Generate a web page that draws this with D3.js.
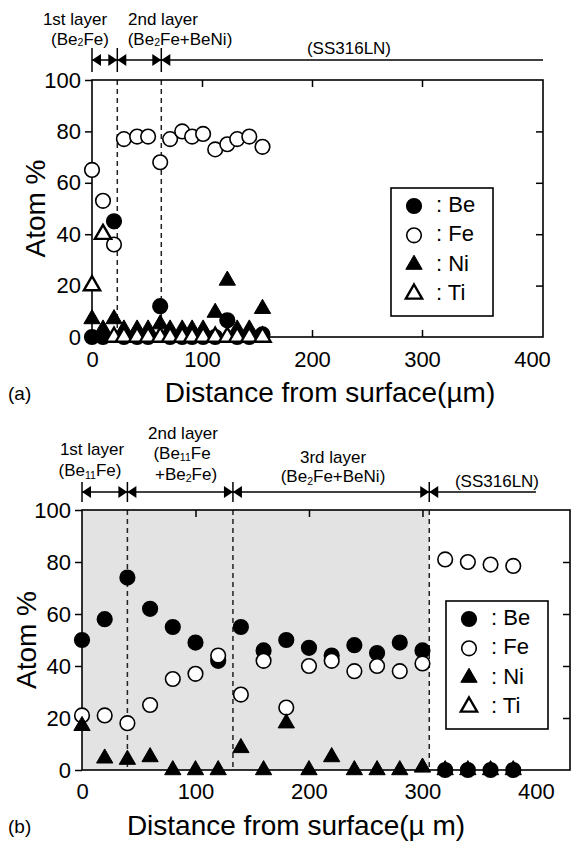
<!DOCTYPE html>
<html>
<head>
<meta charset="utf-8">
<script src="https://cdn.jsdelivr.net/npm/d3@7"></script>
<style>
  body { margin: 0; background: #fff; }
  text { font-family: "Liberation Sans", Arial, sans-serif; fill: #000; }
</style>
</head>
<body>
<svg id="chart" width="573" height="844"></svg>
<script>
// ---- panel (a) data ----
const distA = [0, 10, 20, 29, 41, 51, 62, 71, 82, 91, 101, 112, 123, 132, 143, 155];
const beA = [0, 0, 45, 0, 0, 0, 12, 0, 0, 0, 0, 0, 6.5, 0, 0, 1];
const feA = [65, 53, 36, 77, 78, 78, 68, 77, 80, 78, 79, 73, 75, 77, 78, 74];
const niA = [7, 3, 7, 3, 3, 3, 5, 3, 3, 3, 3, 9.5, 22, 3, 3, 11];
const tiA = [20, 40, 0, 0, 0, 0, 0, 0, 0, 0, 0, 0, 0, 0, 0, 0];
const layersA = [0, 23, 63]; // layer boundaries, µm

// ---- panel (b) data ----
const distB = [0, 20, 40, 60, 80, 100, 120, 140, 160, 180, 200, 220, 240, 260, 280, 300, 320, 340, 360, 380];
const beB = [50, 58, 74, 62, 55, 49, 42, 55, 46, 50, 47, 44, 48, 45, 49, 46, 0, 0, 0, 0];
const feB = [21, 21, 18, 25, 35, 37, 44, 29, 42, 24, 40, 42, 38, 40, 38, 41, 81, 80, 79, 78.5];
const niB = [17, 4.5, 4, 5, 0, 0, 0, 8.5, 0, 18, 0, 5, 0, 0, 0, 1, 0, 0, 0, 0];
const tiB = [];
const layersB = [0, 40, 133, 306];

const yTicks = [0, 20, 40, 60, 80, 100];
const xTickLabels = [0, 100, 200, 300, 400];
const xTickMarks = [100, 200, 300];
const elements = ["Be", "Fe", "Ni", "Ti"];

const svg = d3.select("#chart");

function marker(sel, kind) {
  if (kind === "Be" || kind === "Fe") {
    sel.append("circle")
      .attr("r", 7.3)
      .attr("fill", kind === "Be" ? "#000" : "#fff")
      .attr("stroke", "#000")
      .attr("stroke-width", 1.6);
  } else {
    sel.append("path")
      .attr("d", d3.symbol(d3.symbolTriangle, 115)())
      .attr("fill", kind === "Ni" ? "#000" : "#fff")
      .attr("stroke", "#000")
      .attr("stroke-width", kind === "Ti" ? 2.4 : 1);
  }
}

// text with small (sub) parts: parts = [[text, isSub], ...]
function richText(g, x, y, parts, size, subShift) {
  const t = g.append("text")
    .attr("x", x).attr("y", y)
    .attr("text-anchor", "middle")
    .style("font-size", size + "px");
  let shift = 0;
  parts.forEach(([s, sub]) => {
    const sp = t.append("tspan").text(s);
    if (sub) sp.style("font-size", (size * 0.62) + "px");
    sp.attr("dy", sub ? subShift - shift : -shift);
    shift = sub ? subShift : 0;
  });
  return t;
}

function drawPanel(p) {
  const g = svg.append("g");
  const x = d3.scaleLinear().domain(p.xDomain).range([p.left, p.right]);
  const y = d3.scaleLinear().domain([0, 100]).range([p.bottom, p.top]);

  // shaded coating region
  if (p.shadeTo != null) {
    g.append("rect")
      .attr("x", x(0)).attr("y", p.top)
      .attr("width", x(p.shadeTo) - x(0))
      .attr("height", p.bottom - p.top)
      .attr("fill", "#e3e3e3");
  }

  // dashed layer boundaries
  g.selectAll(".dash")
    .data(p.layers.slice(1))
    .enter().append("line")
    .attr("x1", d => x(d)).attr("x2", d => x(d))
    .attr("y1", p.top).attr("y2", p.bottom)
    .attr("stroke", "#222").attr("stroke-width", 1.5)
    .attr("stroke-dasharray", "5,4");

  // left axis, outward ticks
  const ya = g.append("g")
    .attr("transform", `translate(${p.left},0)`)
    .call(d3.axisLeft(y).tickValues(yTicks).tickSize(7).tickPadding(4));
  ya.select(".domain").remove();
  ya.selectAll("line").attr("stroke-width", 1.5);
  ya.selectAll("text").style("font-size", "22px");

  // right inward ticks
  g.append("g")
    .attr("transform", `translate(${p.right},0)`)
    .call(d3.axisRight(y).tickValues(yTicks.slice(1, -1)).tickSize(-7).tickFormat(""))
    .call(s => s.select(".domain").remove())
    .selectAll("line").attr("stroke-width", 1.5);

  // bottom labels and inward ticks
  const xa = g.append("g")
    .attr("transform", `translate(0,${p.bottom})`)
    .call(d3.axisBottom(x).tickValues(xTickLabels).tickSize(0).tickPadding(p.xPad));
  xa.select(".domain").remove();
  xa.selectAll("text").style("font-size", "22px");

  g.append("g")
    .attr("transform", `translate(0,${p.bottom})`)
    .call(d3.axisBottom(x).tickValues(xTickMarks).tickSize(-7).tickFormat(""))
    .call(s => s.select(".domain").remove())
    .selectAll("line").attr("stroke-width", 1.5);

  g.append("g")
    .attr("transform", `translate(0,${p.top})`)
    .call(d3.axisTop(x).tickValues(xTickMarks).tickSize(-7).tickFormat(""))
    .call(s => s.select(".domain").remove())
    .selectAll("line").attr("stroke-width", 1.5);

  // frame
  g.append("rect")
    .attr("x", p.left).attr("y", p.top)
    .attr("width", p.right - p.left).attr("height", p.bottom - p.top)
    .attr("fill", "none").attr("stroke", "#000").attr("stroke-width", 1.6);

  // header arrows
  const hy = p.headerY;
  g.append("line")
    .attr("x1", x(p.layers[0])).attr("x2", x(p.headerEnd))
    .attr("y1", hy).attr("y2", hy)
    .attr("stroke", "#000").attr("stroke-width", 1.5);
  p.layers.forEach((b, i) => {
    const bx = x(b);
    g.append("line")
      .attr("x1", bx).attr("x2", bx)
      .attr("y1", hy - p.barH).attr("y2", hy + p.barH)
      .attr("stroke", "#000").attr("stroke-width", 1.5);
    // arrowhead pointing left (right side of bar)
    g.append("path")
      .attr("d", `M${bx},${hy}L${bx + 9},${hy - 6}L${bx + 9},${hy + 6}Z`)
      .attr("fill", "#000");
    if (i > 0) {
      g.append("path")
        .attr("d", `M${bx},${hy}L${bx - 9},${hy - 6}L${bx - 9},${hy + 6}Z`)
        .attr("fill", "#000");
    }
  });
  p.header.forEach(h => richText(g, h.x, h.y, h.parts, 17, h.sub || 0));

  // data markers
  p.series.forEach(s => {
    g.selectAll(null)
      .data(d3.zip(p.dist.slice(0, s.vals.length), s.vals))
      .enter().append("g")
      .attr("transform", d => `translate(${x(d[0])},${y(d[1])})`)
      .each(function () { marker(d3.select(this), s.name); });
  });

  // legend
  const lg = g.append("g");
  lg.append("rect")
    .attr("x", p.legend.x).attr("y", p.legend.y)
    .attr("width", 102).attr("height", 128)
    .attr("fill", "#fff").attr("stroke", "#000").attr("stroke-width", 1.6);
  elements.forEach((e, i) => {
    const cy = p.legend.y + 18 + i * 29.3;
    marker(lg.append("g").attr("transform", `translate(${p.legend.x + 23},${cy})`), e);
    lg.append("text")
      .attr("x", p.legend.x + 45).attr("y", cy + 6)
      .style("font-size", "22px")
      .text(": " + e);
  });

  // axis titles
  g.append("text")
    .attr("transform", `translate(${p.yTitleX},${(p.top + p.bottom) / 2}) rotate(-90)`)
    .attr("text-anchor", "middle")
    .style("font-size", "28px")
    .text("Atom %");
  g.append("text")
    .attr("x", p.xTitleX).attr("y", p.xTitleY)
    .attr("text-anchor", "middle")
    .style("font-size", "28px")
    .text(p.xTitle);
  g.append("text")
    .attr("x", 8).attr("y", p.xTitleY - 2)
    .style("font-size", "19px")
    .text(p.tag);
}

drawPanel({
  left: 92, right: 543, top: 80, bottom: 337,
  xDomain: [0, 410],
  xPad: 14,
  dist: distA,
  series: [
    {name: "Be", vals: beA}, {name: "Fe", vals: feA},
    {name: "Ni", vals: niA}, {name: "Ti", vals: tiA}
  ],
  layers: layersA,
  headerY: 60, barH: 12, headerEnd: 410,
  header: [
    {x: 75, y: 25, parts: [["1st layer", false]]},
    {x: 80, y: 45, parts: [["(Be", false], ["2", true], ["Fe)", false]], sub: 1},
    {x: 163, y: 25, parts: [["2nd layer", false]]},
    {x: 180, y: 45, parts: [["(Be", false], ["2", true], ["Fe+BeNi)", false]], sub: 1},
    {x: 349, y: 54, parts: [["(SS316LN)", false]]}
  ],
  legend: {x: 391, y: 188},
  yTitleX: 45, xTitleX: 330, xTitleY: 402,
  xTitle: "Distance from surface(\u00b5m)",
  tag: "(a)"
});

drawPanel({
  left: 82, right: 570, top: 510, bottom: 770,
  xDomain: [0, 430],
  xPad: 13,
  shadeTo: 306,
  dist: distB,
  series: [
    {name: "Be", vals: beB}, {name: "Fe", vals: feB},
    {name: "Ni", vals: niB}, {name: "Ti", vals: tiB}
  ],
  layers: layersB,
  headerY: 492, barH: 10, headerEnd: 400,
  header: [
    {x: 92, y: 455, parts: [["1st layer", false]]},
    {x: 90, y: 476, parts: [["(Be", false], ["11", true], ["Fe)", false]], sub: 3},
    {x: 183, y: 439, parts: [["2nd layer", false]]},
    {x: 182, y: 459, parts: [["(Be", false], ["11", true], ["Fe", false]], sub: 2},
    {x: 186, y: 480, parts: [["+Be", false], ["2", true], ["Fe)", false]], sub: 2},
    {x: 333, y: 463, parts: [["3rd layer", false]]},
    {x: 333, y: 482, parts: [["(Be", false], ["2", true], ["Fe+BeNi)", false]], sub: 3},
    {x: 497, y: 487, parts: [["(SS316LN)", false]]}
  ],
  legend: {x: 446, y: 601},
  yTitleX: 36, xTitleX: 296, xTitleY: 835,
  xTitle: "Distance from surface(\u00b5 m)",
  tag: "(b)"
});
</script>
</body>
</html>
